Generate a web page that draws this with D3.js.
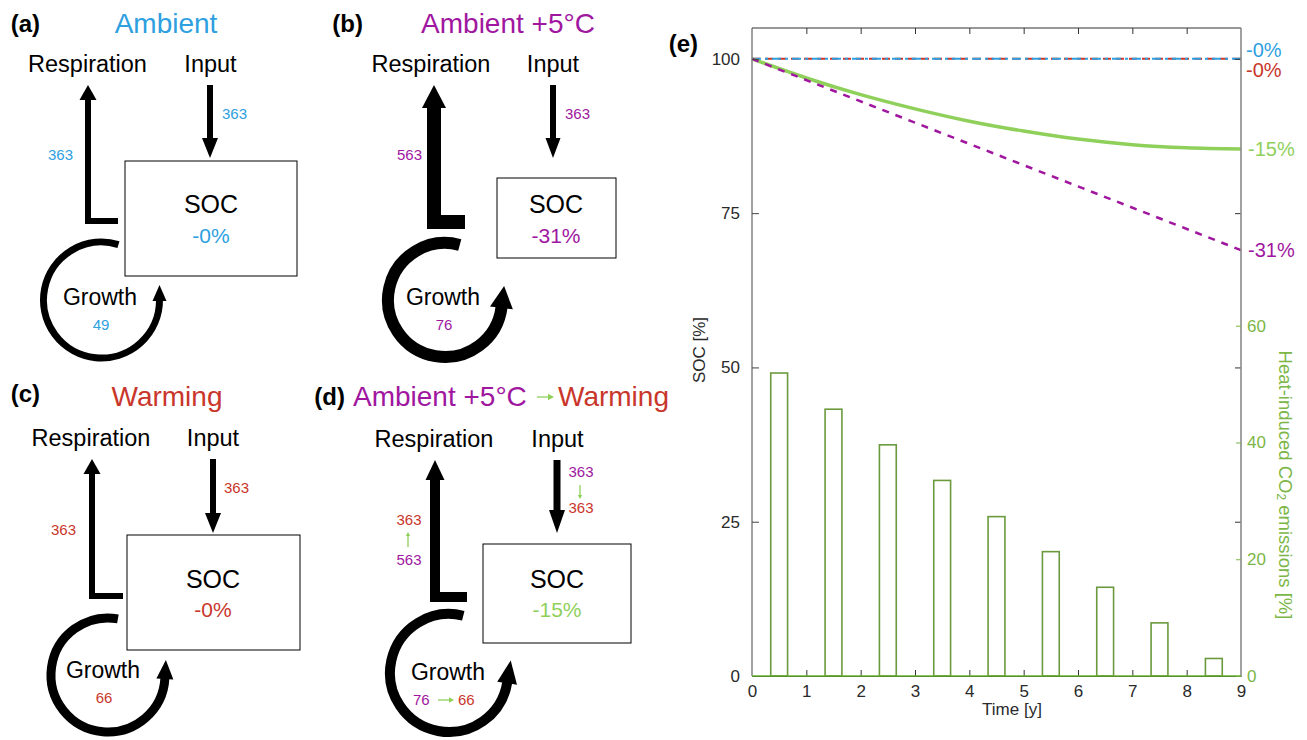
<!DOCTYPE html>
<html><head><meta charset="utf-8">
<script src="https://cdn.jsdelivr.net/npm/d3@7"></script>
<style>
body{margin:0;background:#fff}
svg{display:block}
text{font-family:"Liberation Sans",Arial,Helvetica,sans-serif}
</style>
</head><body>
<svg id="chart" width="1307" height="740"></svg>
<script>
// ================= DATA =================
// panel (e)
const xTickValues = [0,1,2,3,4,5,6,7,8,9];
const socTicks = [0,25,50,75,100];
const emisTicks = [0,20,40,60];
const barYears = [0.5,1.5,2.5,3.5,4.5,5.5,6.5,7.5,8.5];
const heatEmissions = [51.9,45.7,39.6,33.5,27.3,21.3,15.2,9.1,3.0];
const straightYears = [0,9];
const socAmbient = [100,100];
const socWarming = [100,100];
const socAmbient5 = [100,69];
const curveYears = [0,1,2,3,4,5,6,7,8,9];
const socTransition = [100,96.9,94.2,91.9,89.9,88.3,87.0,86.1,85.6,85.4];
const endLabels = ["-0%","-0%","-15%","-31%"];
const endValues = [100,100,85.3,69];

// panels (a)-(d)
const panelTags = ["(a)","(b)","(c)","(d)","(e)"];
const scenarioTitles = ["Ambient","Ambient +5°C","Warming"];
const respFlux = [[363],[563],[363],[563,363]];
const inputFlux = [[363],[363],[363],[363,363]];
const growthFlux = [[49],[76],[66],[76,66]];
const socChange = ["-0%","-31%","-0%","-15%"];

// ================= STYLE =================
const COL = {
  blue:"#2e9fdf", purple:"#a0179f", red:"#c9362b", green:"#8fd05b",
  barStroke:"#6b9a3d", greenAxis:"#7bb646", base:"#66b02e", axisGray:"#8a8a8a", text:"#2a2a2a"
};
const FONT = "'Liberation Sans',Arial,Helvetica,sans-serif";

const svg = d3.select("#chart");
svg.append("rect").attr("width",1307).attr("height",740).attr("fill","#fff");

function txt(g,x,y,s,o={}){
  return g.append("text").attr("x",x).attr("y",y).text(s)
    .attr("font-size",o.size||15).attr("fill",o.color||"#000")
    .attr("text-anchor",o.anchor||"start").attr("font-weight",o.weight||"normal");
}
function vArrow(g,x,y0,tip,w,hw,hl){
  const dir = tip>y0?1:-1;
  const base = tip - dir*hl;
  g.append("line").attr("x1",x).attr("x2",x).attr("y1",y0).attr("y2",base+dir*1)
    .attr("stroke","#000").attr("stroke-width",w);
  g.append("path").attr("d",`M${x-hw/2},${base}L${x+hw/2},${base}L${x},${tip}Z`).attr("fill","#000");
}
function lArrow(g,r){
  const base = r.tip + r.hl;
  g.append("path").attr("d",`M${r.xR},${r.yH}H${r.x}V${base-1}`)
    .attr("fill","none").attr("stroke","#000").attr("stroke-width",r.w).attr("stroke-linejoin","miter");
  g.append("path").attr("d",`M${r.x-r.hw/2},${base}L${r.x+r.hw/2},${base}L${r.x},${r.tip}Z`).attr("fill","#000");
}
function growthArrow(g,c){
  const rad = d=>d*Math.PI/180;
  const a0=rad(c.a0), a1=rad(c.a1);
  const p0=[c.cx+c.r*Math.cos(a0), c.cy+c.r*Math.sin(a0)];
  const p1=[c.cx+c.r*Math.cos(a1), c.cy+c.r*Math.sin(a1)];
  g.append("path").attr("d",`M${p0[0]},${p0[1]}A${c.r},${c.r} 0 1 0 ${p1[0]},${p1[1]}`)
    .attr("fill","none").attr("stroke","#000").attr("stroke-width",c.w);
  const dir=[Math.sin(a1),-Math.cos(a1)], perp=[Math.cos(a1),Math.sin(a1)];
  const b=[p1[0]-dir[0]*1,p1[1]-dir[1]*1];
  const tip=[p1[0]+dir[0]*c.hl,p1[1]+dir[1]*c.hl];
  g.append("path").attr("d",`M${b[0]-perp[0]*c.hw/2},${b[1]-perp[1]*c.hw/2}L${b[0]+perp[0]*c.hw/2},${b[1]+perp[1]*c.hw/2}L${tip[0]},${tip[1]}Z`).attr("fill","#000");
}
function smallArrow(g,x1,y1,x2,y2,h){
  const ang=Math.atan2(y2-y1,x2-x1), hs=h||4;
  g.append("line").attr("x1",x1).attr("y1",y1).attr("x2",x2-Math.cos(ang)*hs*0.8).attr("y2",y2-Math.sin(ang)*hs*0.8)
    .attr("stroke",COL.green).attr("stroke-width",1.3);
  const px=-Math.sin(ang), py=Math.cos(ang);
  const bx=x2-Math.cos(ang)*hs, by=y2-Math.sin(ang)*hs;
  g.append("path").attr("d",`M${bx+px*hs*0.55},${by+py*hs*0.55}L${bx-px*hs*0.55},${by-py*hs*0.55}L${x2},${y2}Z`).attr("fill",COL.green);
}

// ================= PANELS a-d =================
const layout = [
  {tag:[40,32], title:{x:166,y:33}, respT:[87.5,72], inT:[210.5,72],
   input:{x:210,y0:85,tip:158,w:6,hw:16,hl:20}, inVal:{x:222,y:119},
   box:[125,161,297,276], soc:{x:211,y:213,y2:243},
   resp:{xR:118,yH:221,x:88,tip:85,w:6,hw:17,hl:15}, respVal:{x:73,y:160},
   growth:{cx:101.5,cy:300,r:58,a0:-73,a1:0,w:7,hw:14,hl:15}, gT:{x:100,y:305}, gV:{x:101,y:330}},
  {tag:[363,32], title:{x:508,y:33}, respT:[431,72], inT:[553,72],
   input:{x:553,y0:85,tip:158,w:6,hw:15,hl:20}, inVal:{x:565,y:119},
   box:[497,178,616,258], soc:{x:556,y:213,y2:243},
   resp:{xR:465,yH:222,x:434,tip:85,w:14,hw:24,hl:23}, respVal:{x:422,y:160},
   growth:{cx:445,cy:300,r:57,a0:-75,a1:7,w:12,hw:23,hl:21}, gT:{x:443,y:305}, gV:{x:444,y:330}},
  {tag:[40,402], title:{x:167,y:406}, respT:[91,446], inT:[213,446],
   input:{x:213,y0:459,tip:533,w:6,hw:16,hl:20}, inVal:{x:224,y:493},
   box:[127,535,300,650], soc:{x:213,y:588,y2:617},
   resp:{xR:123,yH:596,x:92,tip:459,w:6,hw:17,hl:15}, respVal:{x:76,y:535},
   growth:{cx:108,cy:675,r:57,a0:-80,a1:3,w:9,hw:17,hl:18}, gT:{x:103,y:678}, gV:{x:104,y:703}},
  {tag:[345,405], title:{x:353,y:406}, respT:[434,447], inT:[557.5,447],
   input:{x:557,y0:460,tip:533,w:7,hw:16,hl:23}, inVal:{x:581,y:477,y2:513,ay0:485,ay1:499},
   box:[483,544,631,643], soc:{x:557,y:588,y2:617},
   resp:{xR:467,yH:597,x:435,tip:460,w:10,hw:19,hl:20}, respVal:{x:409,y:525,y2:565,ay0:547,ay1:532},
   growth:{cx:449,cy:673,r:59,a0:-76,a1:9,w:10,hw:20,hl:22}, gT:{x:448,y:680}, gV:{x:413,y:705}}
];
const panelColor = [COL.blue, COL.purple, COL.red, null];
const changeColor = [COL.blue, COL.purple, COL.red, COL.green];

layout.forEach((L,i)=>{
  const g = svg.append("g");
  const c = panelColor[i];
  txt(g,L.tag[0],L.tag[1],panelTags[i],{size:24,weight:"bold",anchor:"end"});
  if(i<3){
    txt(g,L.title.x,L.title.y,scenarioTitles[i],{size:28,color:c,anchor:"middle"});
  } else {
    txt(g,L.title.x,L.title.y,scenarioTitles[1],{size:28,color:COL.purple});
    smallArrow(g,537,397,554,397,6);
    txt(g,558,L.title.y,scenarioTitles[2],{size:28,color:COL.red});
  }
  txt(g,L.respT[0],L.respT[1],"Respiration",{size:23.5,anchor:"middle"});
  txt(g,L.inT[0],L.inT[1],"Input",{size:23.5,anchor:"middle"});
  vArrow(g,L.input.x,L.input.y0,L.input.tip,L.input.w,L.input.hw,L.input.hl);
  lArrow(g,L.resp);
  g.append("rect").attr("x",L.box[0]).attr("y",L.box[1]).attr("width",L.box[2]-L.box[0]).attr("height",L.box[3]-L.box[1])
    .attr("fill","#fff").attr("stroke","#000").attr("stroke-width",1);
  txt(g,L.soc.x,L.soc.y,"SOC",{size:25,anchor:"middle"});
  txt(g,L.soc.x,L.soc.y2,socChange[i],{size:21,color:changeColor[i],anchor:"middle"});
  growthArrow(g,L.growth);
  txt(g,L.gT.x,L.gT.y,"Growth",{size:23,anchor:"middle"});
  if(i<3){
    txt(g,L.inVal.x,L.inVal.y,inputFlux[i][0],{size:15,color:c});
    txt(g,L.respVal.x,L.respVal.y,respFlux[i][0],{size:15,color:c,anchor:"end"});
    txt(g,L.gV.x,L.gV.y,growthFlux[i][0],{size:15,color:c,anchor:"middle"});
  } else {
    txt(g,L.inVal.x,L.inVal.y,inputFlux[i][0],{size:15,color:COL.purple,anchor:"middle"});
    smallArrow(g,L.inVal.x-1,L.inVal.ay0,L.inVal.x-1,L.inVal.ay1,4);
    txt(g,L.inVal.x,L.inVal.y2,inputFlux[i][1],{size:15,color:COL.red,anchor:"middle"});
    txt(g,L.respVal.x,L.respVal.y,respFlux[i][1],{size:15,color:COL.red,anchor:"middle"});
    smallArrow(g,L.respVal.x-1,L.respVal.ay0,L.respVal.x-1,L.respVal.ay1,4);
    txt(g,L.respVal.x,L.respVal.y2,respFlux[i][0],{size:15,color:COL.purple,anchor:"middle"});
    txt(g,L.gV.x,L.gV.y,growthFlux[i][0],{size:15,color:COL.purple});
    smallArrow(g,438,700,454,700,5);
    txt(g,458,L.gV.y,growthFlux[i][1],{size:15,color:COL.red});
  }
});

// ================= PANEL e =================
const X0=752, X1=1241, Y0=676, Y1=28;
const x = d3.scaleLinear().domain([0,9]).range([X0,X1]);
const ySoc = d3.scaleLinear().domain([0,105]).range([Y0,Y1]);
const yEm = d3.scaleLinear().domain([0,111]).range([Y0,Y1]);
const ge = svg.append("g");

txt(ge,698,52,panelTags[4],{size:24,weight:"bold",anchor:"end"});

// bars
const bw = x(0.31)-x(0);
ge.selectAll("rect.bar").data(barYears).join("rect").attr("class","bar")
  .attr("x",(d)=>x(d)-bw/2).attr("y",(d,i)=>yEm(heatEmissions[i]))
  .attr("width",bw).attr("height",(d,i)=>Y0-yEm(heatEmissions[i]))
  .attr("fill","#fff").attr("stroke",COL.barStroke).attr("stroke-width",1.6);

// lines
const line = d3.line().x(d=>x(d[0])).y(d=>ySoc(d[1]));
const zip = (a,b)=>a.map((v,i)=>[v,b[i]]);
ge.append("path").attr("d",line(zip(straightYears,socWarming))).attr("fill","none")
  .attr("stroke",COL.red).attr("stroke-width",2).attr("stroke-dasharray","8,5");
ge.append("path").attr("d",line(zip(straightYears,socAmbient))).attr("fill","none")
  .attr("stroke",COL.blue).attr("stroke-width",2).attr("stroke-dasharray","9,4,3,4");
ge.append("path").attr("d",d3.line().x(d=>x(d[0])).y(d=>ySoc(d[1])).curve(d3.curveMonotoneX)(zip(curveYears,socTransition))).attr("fill","none")
  .attr("stroke",COL.green).attr("stroke-width",3.5);
ge.append("path").attr("d",line(zip(straightYears,socAmbient5))).attr("fill","none")
  .attr("stroke",COL.purple).attr("stroke-width",2.5).attr("stroke-dasharray","7,7");

// axes
const axL = ge.append("g").attr("transform",`translate(${X0},0)`)
  .call(d3.axisLeft(ySoc).tickValues(socTicks).tickSize(-7).tickSizeOuter(0).tickPadding(12));
axL.select(".domain").attr("stroke",COL.axisGray).attr("stroke-width",1.6).attr("d",`M0,${Y0}V${Y1}`);
axL.selectAll(".tick line").attr("stroke","#444");
axL.selectAll(".tick text").attr("font-size",17).attr("fill",COL.text).attr("font-family",FONT);

const axB = ge.append("g").attr("transform",`translate(0,${Y0})`)
  .call(d3.axisBottom(x).tickValues(xTickValues).tickSize(-6).tickSizeOuter(0).tickPadding(9));
axB.select(".domain").attr("stroke","#333").attr("stroke-width",1);
axB.selectAll(".tick line").attr("stroke","#333").attr("opacity",(d)=>(d===0||d===9)?0:1);
axB.selectAll(".tick text").attr("font-size",17).attr("fill",COL.text).attr("font-family",FONT);

const axT = ge.append("g").attr("transform",`translate(0,${Y1})`)
  .call(d3.axisTop(x).tickValues(xTickValues.filter(d=>d>0&&d<9)).tickSize(-6).tickSizeOuter(0).tickFormat(""));
axT.select(".domain").attr("stroke","#333").attr("stroke-width",1.2).attr("d",`M${X0},0H${X1}`);
axT.selectAll(".tick line").attr("stroke","#333");

// right side: black SOC ticks and green emission axis
const axRs = ge.append("g").attr("transform",`translate(${X1},0)`)
  .call(d3.axisRight(ySoc).tickValues(socTicks.filter(d=>d>0)).tickSize(-6).tickSizeOuter(0).tickFormat(""));
axRs.select(".domain").remove();
axRs.selectAll(".tick line").attr("stroke","#333");
const axR = ge.append("g").attr("transform",`translate(${X1},0)`)
  .call(d3.axisRight(yEm).tickValues(emisTicks).tickSize(-5).tickSizeOuter(0).tickPadding(6));
axR.select(".domain").attr("stroke",COL.axisGray).attr("stroke-width",1.6).attr("d",`M0,${Y0}V${Y1}`);
axR.selectAll(".tick line").attr("stroke",COL.greenAxis);
axR.selectAll(".tick text").attr("font-size",17).attr("fill",COL.greenAxis).attr("font-family",FONT);

// green baseline
ge.append("line").attr("x1",X0).attr("x2",X1).attr("y1",Y0).attr("y2",Y0).attr("stroke",COL.base).attr("stroke-width",1.6);

// axis labels
ge.append("text").attr("transform",`translate(705,350) rotate(-90)`).attr("text-anchor","middle")
  .attr("font-size",17).attr("fill",COL.text).text("SOC [%]");
const rl = ge.append("text").attr("transform",`translate(1279,485) rotate(90)`).attr("text-anchor","middle")
  .attr("font-size",18.5).attr("fill",COL.greenAxis);
rl.append("tspan").text("Heat-induced CO");
rl.append("tspan").attr("font-size",12).attr("dy",2).text("2");
rl.append("tspan").attr("dy",-2).text(" emissions [%]");
txt(ge,1012,715,"Time [y]",{size:17,color:COL.text,anchor:"middle"});

// end labels
const endColors = [COL.blue, COL.red, COL.green, COL.purple];
const endDy = [-2, 18, 6, 7];
const endDx = [1246, 1246, 1248, 1248];
endLabels.forEach((s,i)=>{
  txt(ge,endDx[i],ySoc(endValues[i])+endDy[i],s,{size:20,color:endColors[i]});
});
</script>
</body></html>
